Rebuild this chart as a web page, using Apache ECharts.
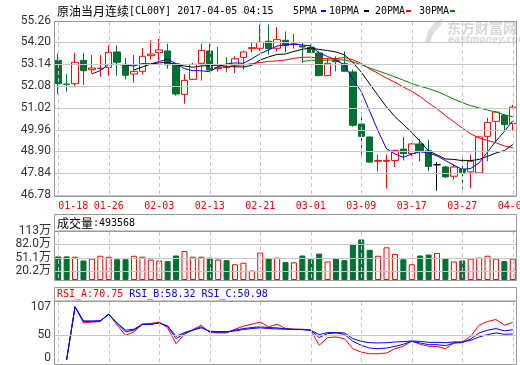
<!DOCTYPE html>
<html><head><meta charset="utf-8">
<script src="https://cdn.jsdelivr.net/npm/echarts@6/dist/echarts.min.js"></script>
<style>html,body{margin:0;padding:0;background:#fff}#c{width:520px;height:365px}</style>
</head><body><div id="c"></div>
<script>
const dates = ['01-18','01-19','01-20','01-23','01-24','01-25','01-26','01-27','01-30','01-31','02-01','02-02','02-03','02-06','02-07','02-08','02-09','02-10','02-13','02-14','02-15','02-16','02-17','02-20','02-21','02-22','02-23','02-24','02-27','02-28','03-01','03-02','03-03','03-06','03-07','03-08','03-09','03-10','03-13','03-14','03-15','03-16','03-17','03-20','03-21','03-22','03-23','03-24','03-27','03-28','03-29','03-30','03-31','04-03','04-04'];
const opens = [53.32,52.17,52.19,53.32,52.87,52.93,52.98,53.73,53.13,52.66,52.79,53.55,53.71,53.78,53.16,51.67,52.40,53.18,53.78,52.92,53.00,53.11,53.47,53.89,53.91,54.25,53.91,54.30,54.09,54.02,53.96,53.68,52.58,53.31,53.16,52.76,50.23,49.60,48.42,48.42,48.46,49.01,48.79,49.26,48.93,48.25,48.14,47.69,48.04,47.90,47.85,49.63,50.36,50.65,50.26];
const closes = [52.19,52.16,53.23,52.82,52.95,52.94,53.71,53.23,52.60,52.79,53.52,53.63,53.83,53.11,51.69,52.35,53.13,53.81,52.85,52.97,52.97,53.40,53.73,53.94,54.20,53.89,54.33,54.04,54.12,53.97,53.71,52.58,53.18,53.26,52.79,50.17,49.63,48.38,48.46,48.46,48.95,48.79,49.26,48.93,48.17,48.25,47.66,48.14,47.88,48.42,49.60,50.31,50.81,50.20,51.05];
const lows = [51.69,51.80,52.08,52.14,52.69,52.53,52.58,52.58,52.39,52.24,52.63,53.36,53.31,52.92,51.61,51.22,52.38,52.34,52.79,52.79,52.74,52.71,52.87,53.71,53.79,53.60,53.75,53.71,53.89,53.20,53.68,52.55,52.56,52.79,52.79,50.10,48.74,48.34,47.93,47.09,48.14,48.46,48.66,48.42,47.93,46.99,47.61,47.53,47.09,47.12,47.83,48.42,49.31,49.88,49.88];
const highs = [53.65,52.66,53.68,53.68,53.58,53.58,54.05,54.05,53.44,53.58,53.92,54.30,54.36,54.13,53.19,52.66,53.19,54.13,54.13,53.97,53.47,53.52,53.79,54.22,55.06,55.06,54.94,54.73,54.60,54.20,54.09,53.76,53.45,53.52,53.76,52.87,50.80,49.62,48.74,48.74,48.97,49.60,49.31,49.52,49.47,48.38,48.20,48.25,48.74,48.74,49.63,50.53,50.84,50.68,51.16];
const ma5 = ['-','-','-','-',52.67,52.82,53.13,53.13,53.09,53.05,53.17,53.15,53.27,53.38,53.16,52.92,52.82,52.82,52.77,53.02,53.15,53.20,53.18,53.40,53.65,53.83,54.02,54.08,54.12,54.07,54.03,53.68,53.51,53.34,53.10,52.40,51.81,50.85,49.89,49.02,48.78,48.61,48.78,48.88,48.82,48.68,48.45,48.23,48.02,48.07,48.34,48.87,49.40,49.87,50.39];
const ma10 = ['-','-','-','-','-','-','-','-','-',52.86,53.00,53.14,53.20,53.23,53.11,53.05,52.99,53.05,53.07,53.09,53.03,53.01,53.00,53.08,53.34,53.49,53.61,53.63,53.76,53.86,53.93,53.85,53.80,53.73,53.59,53.22,52.75,52.18,51.61,51.06,50.59,50.21,49.82,49.38,48.92,48.73,48.53,48.51,48.45,48.45,48.51,48.66,48.82,48.94,49.23];
const ma20 = ['-','-','-','-','-','-','-','-','-','-','-','-','-','-','-','-','-','-','-',52.98,53.01,53.08,53.10,53.16,53.22,53.27,53.30,53.34,53.42,53.47,53.48,53.43,53.40,53.41,53.46,53.35,53.18,52.91,52.69,52.46,52.26,52.03,51.81,51.56,51.25,50.97,50.64,50.34,50.03,49.75,49.55,49.43,49.32,49.16,49.08];
const ma30 = ['-','-','-','-','-','-','-','-','-','-','-','-','-','-','-','-','-','-','-','-','-','-','-','-','-','-','-','-','-',53.27,53.32,53.33,53.33,53.35,53.34,53.25,53.11,52.95,52.81,52.67,52.52,52.36,52.20,52.06,51.95,51.81,51.63,51.44,51.27,51.12,51.01,50.91,50.81,50.68,50.58];
const volumes = [54.4,54.4,53.7,45.0,49.4,55.9,53.7,47.8,47.8,55.9,53.7,47.2,45.0,43.5,56.5,66.7,53.7,53.7,51.5,47.2,45.7,36.3,39.8,21.7,63.0,50.0,51.5,41.3,40.7,56.5,47.8,60.9,42.8,50.0,45.7,82.6,93.5,69.6,55.9,75.4,60.2,47.8,36.3,56.5,58.7,62.4,50.0,42.8,45.0,49.4,51.5,55.9,49.4,43.5,49.36];
const rsiA = ['-',7.1,97.3,69.9,71.1,72.2,85.3,65.9,48.8,54.5,67.6,68.8,71.1,61.4,34.5,50.5,58.5,65.9,53.4,52.8,52.8,59.1,64.2,67.6,71.1,63.1,67.6,60.2,59.1,59.1,57.4,31.7,44.8,45.9,43.1,26.0,20.3,17.4,17.4,18.6,26.0,30.0,39.1,33.4,30.0,30.0,26.0,35.7,37.4,47.1,65.9,72.2,75.6,65.9,70.75];
const rsiB = ['-',7.1,97.3,73.3,72.8,73.3,84.2,68.8,54.5,57.4,67.1,67.6,69.9,64.2,43.1,51.7,57.4,63.1,54.5,53.9,53.9,57.4,60.2,61.9,63.1,61.9,61.4,59.6,59.1,58.5,57.4,44.8,51.7,52.8,50.5,38.5,31.7,27.1,26.0,27.1,30.0,33.4,38.5,35.7,32.8,32.8,31.1,35.7,36.2,42.5,52.8,57.4,60.2,56.2,58.32];
const rsiC = ['-',7.1,97.3,72.2,72.8,73.3,84.2,69.9,57.4,59.1,67.6,67.6,69.3,64.8,47.1,53.4,57.9,61.4,55.7,55.1,55.1,56.2,58.5,60.2,61.4,60.2,59.6,59.1,58.5,58.5,57.4,49.9,53.4,53.4,52.8,43.1,38.5,36.2,35.7,36.2,37.4,38.0,39.1,38.5,36.8,36.8,36.2,37.4,37.4,40.2,45.9,49.9,52.8,50.5,50.98];
const priceTicks = [46.78,47.84,48.90,49.96,51.02,52.08,53.14,54.20,55.26];
const volTicks = [0,20.2,51.1,82.0,113];
const volTickLabels = ['0','20.2万','51.1万','82.0万','113万'];
const volGridValues = [20.2,51.1,82.0];
const rsiTicks = [0,50,107];
const rsiGridValues = [50];
const dateTickIdx = [0,6,12,18,24,30,36,42,48,54];
const titleText = ['原油当月连续','[CL00Y] 2017-04-05 04:15'];
const maNames = ['5PMA','10PMA','20PMA','30PMA'];
const volumeHeader = ['成交量',':493568'];
const rsiHeader = ['RSI_A:70.75','RSI_B:58.32','RSI_C:50.98'];

const UP='#ff0000', DOWN='#007032', GRIDC='#c8c8c8', BORDER='#999999';
const MONO='DejaVu Sans Mono', CJK='Noto Sans CJK SC', NUM='Roboto';
const L=54, W=463;
const panelBoxes=[
  {top:20.5,height:174.5,min:46.78,max:55.26,h:priceTicks},
  {top:231,height:49,min:0,max:113,h:volGridValues},
  {top:301,height:63,min:0,max:107,h:rsiGridValues}
];
const grids=panelBoxes.map(p=>({left:L,width:W,top:p.top,height:p.height,show:false,containLabel:false,outerBoundsMode:'none'}));

const xAxes=[];
[0,1,2].forEach(gi=>{
  xAxes.push({type:'category',gridIndex:gi,data:dates,boundaryGap:true,show:false,position:'top'});
  xAxes.push({type:'value',gridIndex:gi,min:-0.5,max:54.5,position:'bottom',
    axisLine:{show:false},
    axisTick:{show:false},
    axisLabel:{show:gi===0,customValues:dateTickIdx,formatter:v=>dates[Math.round(v)]||'',
      color:UP,fontFamily:MONO,fontSize:10,margin:6,alignMinLabel:'left'},
    splitLine:{show:false}});
});

const yAxes=[
  {type:'value',gridIndex:0,min:46.78,max:55.26,
   axisLine:{show:false},axisTick:{show:false},
   axisLabel:{customValues:priceTicks,formatter:v=>v.toFixed(2),color:'#333',fontFamily:NUM,fontSize:12,margin:3},
   splitLine:{show:false}},
  {type:'value',gridIndex:1,min:0,max:113,
   axisLine:{show:false},axisTick:{show:false},
   axisLabel:{customValues:volTicks,formatter:v=>{const i=volTicks.indexOf(v);return i>=0?volTickLabels[i]:'';},color:'#333',fontFamily:NUM+', '+CJK,fontSize:12,margin:3},
   splitLine:{show:false}},
  {type:'value',gridIndex:2,min:0,max:107,
   axisLine:{show:false},axisTick:{show:false},
   axisLabel:{customValues:rsiTicks,color:'#333',fontFamily:NUM,fontSize:12,margin:3,verticalAlignMaxLabel:'top',verticalAlignMinLabel:'bottom'},
   splitLine:{show:false}}
];

const candle = opens.map((o,i)=>[o,closes[i],lows[i],highs[i]]);
const volData = volumes.map((v,i)=>{
  const up = closes[i]>=opens[i];
  return {value:v,itemStyle:up?{color:'#fff',borderColor:UP,borderWidth:1}:{color:DOWN,borderColor:DOWN,borderWidth:1}};
});
function line(data,color,xi,yi,z){return {type:'line',data:data,xAxisIndex:xi,yAxisIndex:yi,symbol:'none',smooth:false,z:z||3,
  lineStyle:{color:color,width:1},itemStyle:{color:color},emphasis:{disabled:true}};}

// background guides (grid lines and frames), matching the panels' axis ranges
const GZ=30;
const guides=[];
panelBoxes.forEach(p=>{
  const yB=p.top+p.height;
  p.h.forEach(v=>{
    const y=Math.round(yB-(v-p.min)/(p.max-p.min)*p.height);
    guides.push({type:'rect',z:GZ,silent:true,shape:{x:L,y:y,width:W,height:1},style:{fill:GRIDC}});
  });
  dateTickIdx.forEach(d=>{
    const x=Math.round(L+(d+0.5)*W/dates.length);
    for(let y=Math.round(p.top)+1;y<yB;y+=7){
      guides.push({type:'rect',z:GZ,silent:true,shape:{x:x,y:y,width:1,height:Math.min(4,yB-y)},style:{fill:GRIDC}});
    }
  });
  guides.push({type:'rect',z:GZ+1,silent:true,shape:{x:L+0.5,y:Math.round(p.top)+0.5,width:W-1,height:Math.round(p.height)},style:{fill:'none',stroke:BORDER,lineWidth:1}});
});

const legendX=[293,329,375,419], legendMarkX=[321,364,406,450], maColors=['#0000ff','#000000','#ff0000','#008000'];
const graphic=guides.concat([
  {type:'text',x:57,y:11,style:{text:'{c|'+titleText[0]+'}{m|'+titleText[1]+'}',verticalAlign:'middle',
    rich:{c:{fontFamily:CJK,fontSize:12,fill:'#000'},m:{fontFamily:MONO,fontSize:10,fill:'#000'}}}},
  {type:'rect',shape:{x:L+0.5,y:214.5,width:W-1,height:16.5},style:{fill:'none',stroke:BORDER,lineWidth:1}},
  {type:'rect',shape:{x:L+0.5,y:287.5,width:W-1,height:13.5},style:{fill:'none',stroke:BORDER,lineWidth:1}},
  {type:'text',x:57,y:223,style:{text:'{c|'+volumeHeader[0]+'}{m|'+volumeHeader[1]+'}',verticalAlign:'middle',
    rich:{c:{fontFamily:CJK,fontSize:12,fill:'#000'},m:{fontFamily:MONO,fontSize:10,fill:'#000'}}}},
  {type:'text',x:57,y:294.5,style:{text:'{r|'+rsiHeader[0]+'} {b|'+rsiHeader[1]+'} {b|'+rsiHeader[2]+'}',verticalAlign:'middle',fontFamily:MONO,fontSize:10,
    rich:{r:{fontFamily:MONO,fontSize:10,fill:'#ff0000'},b:{fontFamily:MONO,fontSize:10,fill:'#0000ff'}}}},
  {type:'polygon',shape:{points:[[425,43],[428,31],[434,23],[443,18],[441,25],[436,30],[432,36],[430,43]]},style:{fill:'#dedede'}},
  {type:'text',x:447,y:28,style:{text:'东方财富网',fontFamily:CJK,fontSize:14,fontWeight:'bold',fill:'#d8d8d8',verticalAlign:'middle'}},
  {type:'text',x:448,y:40,style:{text:'eastmoney.com',fontFamily:'DejaVu Sans',fontSize:9,fontWeight:'bold',fontStyle:'italic',fill:'#dadada',verticalAlign:'middle'}}
]);
maNames.forEach((n,i)=>{
  graphic.push({type:'text',x:legendX[i],y:11,style:{text:n,fontFamily:MONO,fontSize:10,fill:'#000',verticalAlign:'middle'}});
  graphic.push({type:'rect',shape:{x:legendMarkX[i],y:10,width:5,height:2},style:{fill:maColors[i]}});
});

const chart=echarts.init(document.getElementById('c'),null,{renderer:'canvas'});
chart.setOption({
  animation:false,
  grid:grids,xAxis:xAxes,yAxis:yAxes,graphic:graphic,
  series:[
    {type:'candlestick',xAxisIndex:0,yAxisIndex:0,data:candle,barWidth:7,z:3,
     itemStyle:{color:'#fff',color0:DOWN,borderColor:UP,borderColor0:DOWN,borderColorDoji:'#000',borderWidth:1}},
    line(ma5,maColors[0],0,0,4),line(ma10,maColors[1],0,0,4),line(ma20,maColors[2],0,0,4),line(ma30,maColors[3],0,0,4),
    {type:'bar',xAxisIndex:2,yAxisIndex:1,data:volData,barWidth:6,z:3},
    line(rsiA,'#ff0000',4,2,3),line(rsiB,'#0000ff',4,2,4),line(rsiC,'#0000ff',4,2,4)
  ]
});
</script></body></html>
